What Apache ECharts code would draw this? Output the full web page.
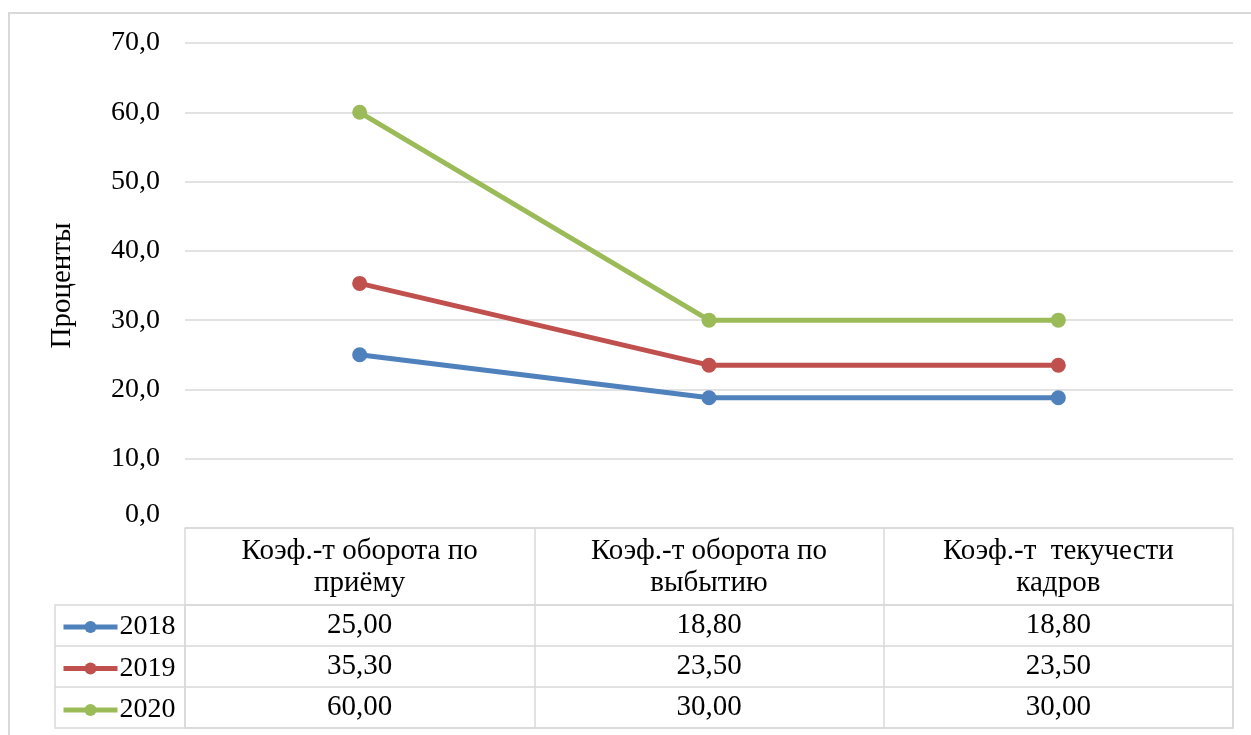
<!DOCTYPE html>
<html>
<head>
<meta charset="utf-8">
<script src="https://cdn.jsdelivr.net/npm/echarts@6/dist/echarts.min.js"></script>
<style>
html,body{margin:0;padding:0;background:#fff;}
#chart{width:1251px;height:735px;}
</style>
</head>
<body>
<div id="chart"></div>
<script>
const categories = ['Коэф.-т оборота по\nприёму', 'Коэф.-т оборота по\nвыбытию', 'Коэф.-т  текучести\nкадров'];
const years = ['2018', '2019', '2020'];
const values2018 = [25.00, 18.80, 18.80];
const values2019 = [35.30, 23.50, 23.50];
const values2020 = [60.00, 30.00, 30.00];
const yTicks = [0, 10, 20, 30, 40, 50, 60, 70];
const colors = ['#4f81bd', '#c0504d', '#9bbb59'];

const seriesValues = [values2018, values2019, values2020];
const FONT = '"Liberation Serif", "Times New Roman", serif';
const GRIDC = '#d9d9d9';
const fmt2 = v => v.toFixed(2).replace('.', ',');
const fmt1 = v => v.toFixed(1).replace('.', ',');

const tableData = [];
seriesValues.forEach((arr, r) => arr.forEach((v, c) => tableData.push([c, r, v])));

const chart = echarts.init(document.getElementById('chart'));
const option = {
  backgroundColor: '#fff',
  animation: false,
  color: colors,
  graphic: [{
    type: 'rect', shape: {x: 9, y: 13, width: 1270, height: 760},
    style: {fill: 'none', stroke: GRIDC, lineWidth: 2}, silent: true, z: -1
  }],
  legend: {
    orient: 'vertical', left: 61, top: 613, padding: 0,
    itemWidth: 54, itemHeight: 15, itemGap: 13.5,
    lineStyle: {width: 5},
    textStyle: {fontFamily: FONT, fontSize: 28, color: '#000', padding: [0, 0, 0, -3]},
    data: years
  },
  grid: [
    {left: 185, right: 18, top: 43, height: 485},
    {left: 185, right: 18, top: 605, height: 123}
  ],
  xAxis: [
    {
      type: 'category', gridIndex: 0, data: categories, boundaryGap: true,
      axisLine: {show: true, lineStyle: {color: GRIDC, width: 1.5}},
      axisTick: {show: true, length: 77, interval: 0, lineStyle: {color: GRIDC, width: 1.5}},
      axisLabel: {interval: 0, margin: 7, fontFamily: FONT, fontSize: 29, lineHeight: 32, color: '#000', align: 'center'},
      splitLine: {show: false}
    },
    {
      type: 'category', gridIndex: 1, data: categories, position: 'bottom',
      axisLine: {show: true, lineStyle: {color: GRIDC, width: 1.5}},
      axisTick: {show: false}, axisLabel: {show: false},
      splitLine: {show: true, interval: 0, lineStyle: {color: GRIDC, width: 1.5}}
    },
    {
      type: 'category', gridIndex: 1, data: categories, position: 'top',
      axisLine: {show: true, lineStyle: {color: GRIDC, width: 1.5}},
      axisTick: {show: false}, axisLabel: {show: false}, splitLine: {show: false}
    }
  ],
  yAxis: [
    {
      type: 'value', gridIndex: 0, min: 0, max: 70, interval: 10,
      name: 'Проценты', nameLocation: 'middle', nameGap: 108, nameRotate: 90,
      nameTextStyle: {fontFamily: FONT, fontSize: 29, color: '#000'},
      axisLine: {show: false}, axisTick: {show: false},
      axisLabel: {
        margin: 25, fontFamily: FONT, fontSize: 28, color: '#000',
        formatter: v => yTicks.indexOf(v) === 0 ? '{z|' + fmt1(v) + '}' : fmt1(v),
        rich: {z: {fontFamily: FONT, fontSize: 28, color: '#000', padding: [0, 0, 26, 0]}}
      },
      splitLine: {show: true, lineStyle: {color: GRIDC, width: 1.5}}
    },
    {
      type: 'category', gridIndex: 1, data: years, inverse: true,
      axisLine: {show: true, lineStyle: {color: GRIDC, width: 1.5}},
      axisTick: {show: true, length: 130, interval: 0, lineStyle: {color: GRIDC, width: 1.5}},
      axisLabel: {show: false},
      splitLine: {show: true, interval: 0, lineStyle: {color: GRIDC, width: 1.5}}
    },
    {
      type: 'category', gridIndex: 1, data: years, inverse: true, position: 'left', offset: 130,
      axisLine: {show: true, lineStyle: {color: GRIDC, width: 1.5}},
      axisTick: {show: false}, axisLabel: {show: false}, splitLine: {show: false}
    },
    {
      type: 'category', gridIndex: 1, data: years, inverse: true, position: 'right',
      axisLine: {show: true, lineStyle: {color: GRIDC, width: 1.5}},
      axisTick: {show: false}, axisLabel: {show: false}, splitLine: {show: false}
    }
  ],
  series: years.map((y, i) => ({
    name: y, type: 'line', xAxisIndex: 0, yAxisIndex: 0,
    data: seriesValues[i],
    symbol: 'circle', symbolSize: 15,
    lineStyle: {width: 5, color: colors[i]},
    itemStyle: {color: colors[i]}
  })).concat([{
    type: 'custom', xAxisIndex: 1, yAxisIndex: 1, silent: true,
    data: tableData,
    renderItem: (params, api) => {
      const p = api.coord([api.value(0), api.value(1)]);
      return {
        type: 'text', x: p[0], y: p[1],
        style: {text: fmt2(api.value(2)), align: 'center', verticalAlign: 'middle',
          fontFamily: FONT, fontSize: 29, fill: '#000'}
      };
    }
  }])
};
chart.setOption(option);
</script>
</body>
</html>
